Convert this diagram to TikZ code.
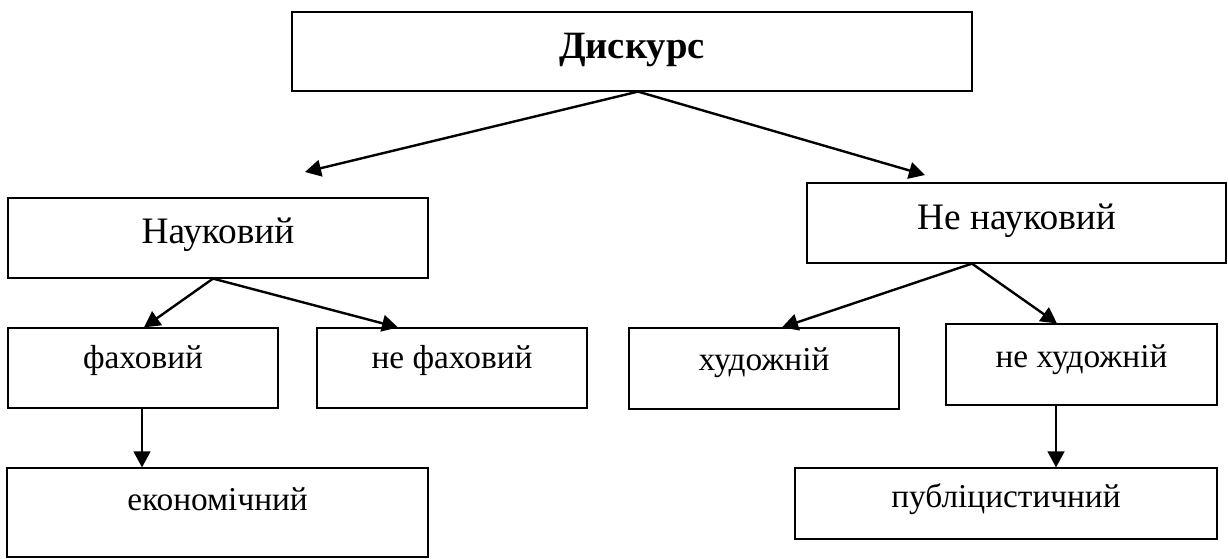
\documentclass[tikz,border=0pt]{standalone}
\usepackage{fontspec}
\setmainfont{Liberation Serif}
\usetikzlibrary{arrows.meta}
\begin{document}
\tikzset{
  box/.style={draw, line width=0.9pt, rectangle, inner sep=0pt, font=\fontsize{25}{29}\selectfont},
  bigbox/.style={box, font=\fontsize{28}{32}\selectfont},
  arr/.style={line width=1.8pt, -{Triangle[length=12pt,width=12.5pt]}},
}
\begin{tikzpicture}[x=0.75pt,y=-0.75pt]
\useasboundingbox (0,0) rectangle (1228,558);
\node[box, minimum width=510pt, minimum height=59.25pt, font=\fontsize{29}{33}\selectfont\bfseries, text height=16pt, text depth=6.25pt] (disc) at (632,51.5) {Дискурс};
\node[bigbox, minimum width=315pt, minimum height=60pt, text height=14pt, text depth=6.5pt] (nauk) at (218,238) {Науковий};
\node[bigbox, minimum width=314.25pt, minimum height=60pt, text height=15pt, text depth=6pt] (nenauk) at (1016.5,223) {Не науковий};
\node[box, minimum width=202.5pt, minimum height=60pt, text height=12pt, text depth=12pt] (fah) at (143,368) {фаховий};
\node[box, minimum width=202.5pt, minimum height=60pt, text height=12pt, text depth=12pt] (nefah) at (452,368) {не фаховий};
\node[box, minimum width=202.5pt, minimum height=60.75pt, text height=12pt, text depth=9.75pt] (hud) at (764,368.5) {художній};
\node[box, minimum width=203.25pt, minimum height=60.75pt, text height=12pt, text depth=8.25pt] (nehud) at (1081.5,364.5) {не художній};
\node[box, minimum width=315.75pt, minimum height=66.75pt, text height=10pt, text depth=13.75pt] (econ) at (217.5,512.5) {економічний};
\node[box, minimum width=316.5pt, minimum height=53.25pt, text height=13pt, text depth=7.75pt] (publ) at (1006,503.5) {публіцистичний};
\coordinate (dl) at (305,172);
\coordinate (dr) at (925,175);
\draw[arr] ([xshift=4.5pt]disc.south) -- (dl);
\draw[arr] ([xshift=4.5pt]disc.south) -- (dr);
\draw[arr] ([xshift=-3.75pt]nauk.south) -- ([xshift=0.75pt]fah.north);
\draw[arr] ([xshift=-3.75pt]nauk.south) -- ([xshift=-40.5pt]nefah.north);
\draw[arr] ([xshift=-33.4pt]nenauk.south) -- ([xshift=13.5pt]hud.north);
\draw[arr] ([xshift=-33.4pt]nenauk.south) -- ([xshift=-18.4pt]nehud.north);
\draw[arr] ([xshift=-0.75pt]fah.south) -- ([xshift=-0.75pt]fah.south |- econ.north);
\draw[arr] ([xshift=-19.1pt]nehud.south) -- ([xshift=-19.1pt]nehud.south |- publ.north);
\end{tikzpicture}
\end{document}
